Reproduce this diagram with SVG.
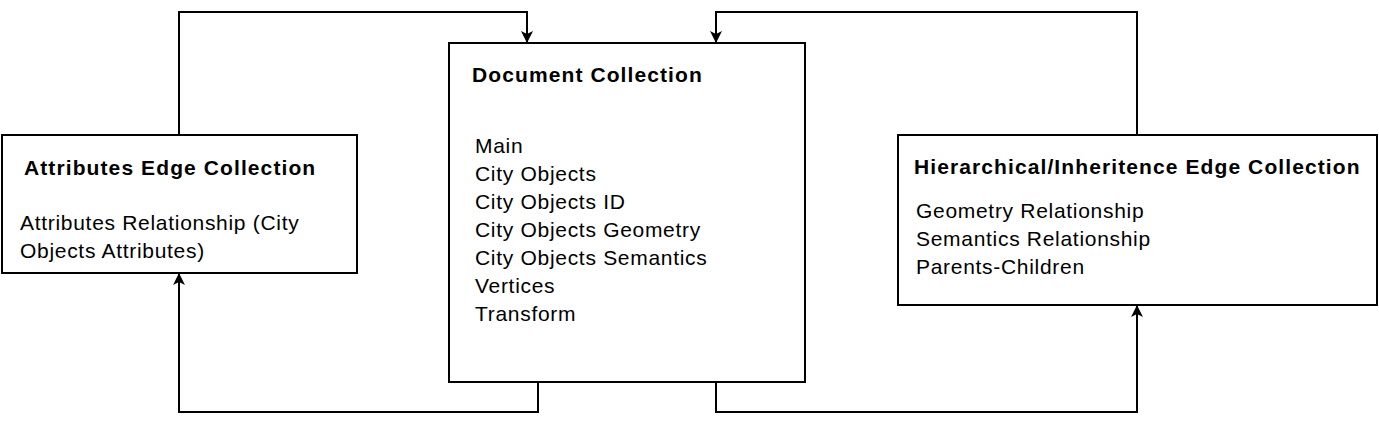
<svg xmlns="http://www.w3.org/2000/svg" width="1379" height="428" viewBox="0 0 1379 428">
<style>
.box{fill:#fff;stroke:#000;stroke-width:2}
.t{font-family:"Liberation Sans",Arial,sans-serif;font-size:21px;letter-spacing:0.7px;fill:#000}
.b{font-weight:bold;letter-spacing:1.1px}
.c{fill:none;stroke:#000;stroke-width:2}
</style>
<defs><marker id="a" markerWidth="12" markerHeight="12" refX="11" refY="6" orient="auto" markerUnits="userSpaceOnUse"><path d="M0,0 L12,6 L0,12 L3,6 Z" fill="#000"/></marker></defs>
<rect width="1379" height="428" fill="#fff"/>
<g id="connectors">
<path class="c" d="M179,135 V12 H527 V42" marker-end="url(#a)"/>
<path class="c" d="M538,382 V412 H179 V274" marker-end="url(#a)"/>
<path class="c" d="M1137,135 V12 H716 V42" marker-end="url(#a)"/>
<path class="c" d="M716,382 V412 H1137 V306" marker-end="url(#a)"/>
</g>
<g id="attributes">
<rect class="box" x="2" y="135" width="355" height="138"/>
<text class="t b" x="24" y="175">Attributes Edge Collection</text>
<text class="t" x="20" y="230">Attributes Relationship (City</text>
<text class="t" x="20" y="258">Objects Attributes)</text>
</g>
<g id="document">
<rect class="box" x="449" y="43" width="356" height="339"/>
<text class="t b" x="472" y="82">Document Collection</text>
<text class="t" x="475" y="153">Main</text>
<text class="t" x="475" y="181">City Objects</text>
<text class="t" x="475" y="209">City Objects ID</text>
<text class="t" x="475" y="237">City Objects Geometry</text>
<text class="t" x="475" y="265">City Objects Semantics</text>
<text class="t" x="475" y="293">Vertices</text>
<text class="t" x="475" y="321">Transform</text>
</g>
<g id="hierarchical">
<rect class="box" x="898" y="135" width="479" height="170"/>
<text class="t b" x="914" y="174">Hierarchical/Inheritence Edge Collection</text>
<text class="t" x="916" y="218">Geometry Relationship</text>
<text class="t" x="916" y="246">Semantics Relationship</text>
<text class="t" x="916" y="274">Parents-Children</text>
</g>
</svg>
